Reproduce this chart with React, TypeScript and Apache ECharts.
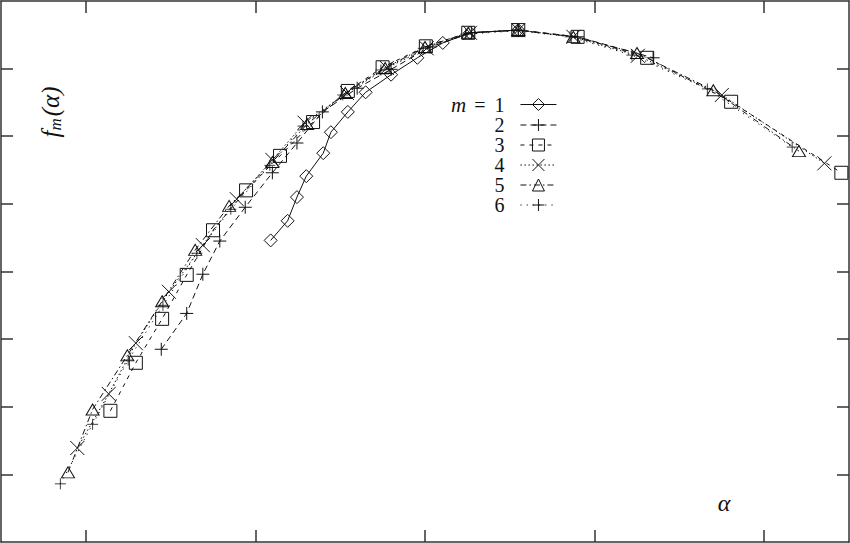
import { useEffect, useRef } from "react";
import * as echarts from "echarts";

// f_m(alpha) spectra, m = 1..6
const M1_ALPHA = [0.818, 0.838, 0.849, 0.860, 0.880, 0.889, 0.909, 0.930, 0.960, 0.991, 1.021, 1.053, 1.110];
const M1_F = [0.646, 0.675, 0.710, 0.741, 0.775, 0.806, 0.836, 0.865, 0.891, 0.916, 0.938, 0.953, 0.957];

const M2_ALPHA = [0.689, 0.719, 0.738, 0.758, 0.788, 0.820, 0.849, 0.879, 0.920, 0.960, 1.006, 1.055, 1.110, 1.180, 1.269];
const M2_F = [0.485, 0.538, 0.596, 0.645, 0.695, 0.746, 0.790, 0.836, 0.871, 0.899, 0.932, 0.953, 0.957, 0.947, 0.916];

const M3_ALPHA = [0.629, 0.659, 0.690, 0.719, 0.750, 0.789, 0.829, 0.868, 0.909, 0.950, 1.001, 1.051, 1.110, 1.180, 1.262, 1.361, 1.491];
const M3_F = [0.394, 0.465, 0.530, 0.595, 0.661, 0.720, 0.771, 0.821, 0.867, 0.902, 0.933, 0.953, 0.957, 0.947, 0.916, 0.851, 0.746];

const M4_ALPHA = [0.590, 0.627, 0.659, 0.698, 0.738, 0.778, 0.820, 0.858, 0.908, 0.955, 1.002, 1.053, 1.110, 1.175, 1.251, 1.350, 1.471];
const M4_F = [0.339, 0.419, 0.494, 0.570, 0.639, 0.707, 0.765, 0.820, 0.864, 0.901, 0.930, 0.953, 0.957, 0.947, 0.919, 0.861, 0.760];

const M5_ALPHA = [0.579, 0.608, 0.649, 0.690, 0.729, 0.769, 0.820, 0.861, 0.906, 0.953, 1.000, 1.051, 1.110, 1.175, 1.250, 1.340, 1.441];
const M5_F = [0.303, 0.396, 0.476, 0.556, 0.632, 0.697, 0.762, 0.818, 0.864, 0.901, 0.932, 0.953, 0.957, 0.947, 0.923, 0.868, 0.778];

const M6_ALPHA = [0.570, 0.608, 0.650, 0.691, 0.731, 0.771, 0.817, 0.856, 0.903, 0.948, 0.998, 1.048, 1.110, 1.171, 1.244, 1.333, 1.433];
const M6_F = [0.286, 0.374, 0.469, 0.550, 0.627, 0.692, 0.757, 0.815, 0.861, 0.898, 0.930, 0.951, 0.956, 0.947, 0.920, 0.870, 0.784];

const X_TICKS = [0.6, 0.8, 1.0, 1.2, 1.4];
const Y_TICKS = [0.3, 0.4, 0.5, 0.6, 0.7, 0.8, 0.9];

const FONT = "'Liberation Serif', 'DejaVu Serif', serif";
const INK = "#111";
const FRAME = "#333";

const PLUS = "path://M0,6L12,6M6,0L6,12";
const CROSS = "path://M0,0L12,12M12,0L0,12";

const zip = (a: number[], f: number[]) => a.map((v, i) => [v, f[i]]);

type Spec = { name: string; a: number[]; f: number[]; symbol: string; size: number | number[]; dash: number[] | "solid"; bw?: number };

const SPECS: Spec[] = [
  { name: "1", a: M1_ALPHA, f: M1_F, symbol: "diamond", size: 13, dash: "solid" },
  { name: "2", a: M2_ALPHA, f: M2_F, symbol: PLUS, size: 13, dash: [6, 4] },
  { name: "3", a: M3_ALPHA, f: M3_F, symbol: "rect", size: 13, dash: [4, 5] },
  { name: "4", a: M4_ALPHA, f: M4_F, symbol: CROSS, size: 14, dash: [1.5, 2.5] },
  { name: "5", a: M5_ALPHA, f: M5_F, symbol: "triangle", size: [13, 11], dash: [6, 3, 1.5, 3] },
  { name: "6", a: M6_ALPHA, f: M6_F, symbol: PLUS, size: 11, dash: [1.2, 5], bw: 0.8 },
];

const frameAxis = {
  axisLine: { show: true, onZero: false, lineStyle: { color: FRAME, width: 1.5 } },
  axisLabel: { show: false },
  splitLine: { show: false },
};

export default function App() {
  const ref = useRef<HTMLDivElement>(null);

  useEffect(() => {
    if (!ref.current) return;
    const inst = echarts.init(ref.current, undefined, { renderer: "svg" });

    const xTick = { show: true, inside: true, length: 12, customValues: X_TICKS, lineStyle: { color: FRAME, width: 1.5 } };
    const yTick = { show: true, inside: true, length: 12, customValues: Y_TICKS, lineStyle: { color: FRAME, width: 1.5 } };

    inst.setOption({
      backgroundColor: "#fff",
      animation: false,
      grid: { left: 1, right: 1, top: 1, bottom: 1 },
      xAxis: [
        { type: "value", min: 0.5, max: 1.5, position: "bottom", axisTick: xTick, ...frameAxis },
        { type: "value", min: 0.5, max: 1.5, position: "top", axisTick: xTick, ...frameAxis },
      ],
      yAxis: [
        { type: "value", min: 0.2, max: 1.0, position: "left", axisTick: yTick, ...frameAxis },
        { type: "value", min: 0.2, max: 1.0, position: "right", axisTick: yTick, ...frameAxis },
      ],
      legend: {
        orient: "vertical",
        left: 446,
        top: 89,
        align: "right",
        itemWidth: 36,
        itemHeight: 15,
        itemGap: 0,
        selectedMode: false,
        data: SPECS.map(s => s.name),
        formatter: (name: string) => (name === "1" ? "{i|m}{e|=}1" : name),
        itemStyle: { borderWidth: 1 },
        lineStyle: { width: 1 },
        textStyle: {
          fontFamily: FONT, fontSize: 20, color: INK, lineHeight: 19.5, padding: [0, 11, 0, 0],
          rich: {
            i: { fontFamily: FONT, fontSize: 21, fontStyle: "italic", color: INK, lineHeight: 19.5 },
            e: { fontFamily: FONT, fontSize: 20, color: INK, lineHeight: 19.5, padding: [0, 9, 0, 8] },
          },
        },
      },
      graphic: [
        {
          type: "text", x: 50, y: 112, rotation: Math.PI / 2,
          style: {
            text: "{f|f}{s|m}{f|(α)}",
            align: "center", verticalAlign: "middle",
            rich: {
              f: { fontFamily: FONT, fontSize: 25, fontStyle: "italic", fill: INK },
              s: { fontFamily: FONT, fontSize: 17, fontStyle: "italic", fill: INK, padding: [10, 2, 0, 0] },
            },
          },
        },
        {
          type: "text", x: 724, y: 503,
          style: { text: "α", fontFamily: FONT, fontSize: 24, fontStyle: "italic", fill: INK, align: "center", verticalAlign: "middle" },
        },
      ],
      series: SPECS.map(s => ({
        name: s.name,
        type: "line",
        data: zip(s.a, s.f),
        symbol: s.symbol,
        symbolSize: s.size,
        symbolKeepAspect: true,
        showAllSymbol: true,
        clip: false,
        itemStyle: { color: "none", borderColor: INK, borderWidth: s.bw ?? 1 },
        lineStyle: { color: INK, width: 1, type: s.dash },
        emphasis: { disabled: true },
      })),
    });

    return () => inst.dispose();
  }, []);

  return <div ref={ref} style={{ position: "fixed", left: 0, top: 0, width: 850, height: 543, background: "#fff" }} />;
}
